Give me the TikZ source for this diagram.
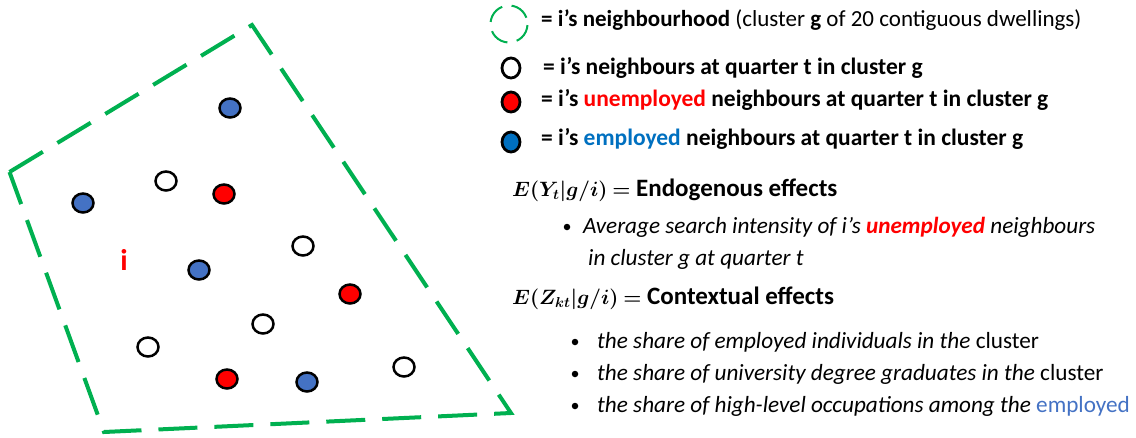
\documentclass[tikz,border=0pt]{standalone}
\usepackage{fontspec}
\setmainfont{Carlito}
\usetikzlibrary{shapes.geometric}
\definecolor{ogreen}{HTML}{00B050}
\definecolor{dblue}{HTML}{4472C4}
\definecolor{lblue}{HTML}{0070C0}
\definecolor{ored}{HTML}{FF0000}
\newcommand{\ymath}{{\fontsize{21.5}{25}\selectfont\boldmath$E(Y_t\vert g/i)$ $=$}}
\newcommand{\zmath}{{\fontsize{21.5}{25}\selectfont\boldmath$E(Z_{kt}\vert g/i)$ $=$}}
\begin{document}
\begin{tikzpicture}[x=1pt,y=-1pt,
  border/.style={draw=ogreen,line width=4pt,dash pattern=on 39pt off 17pt},
  dot/.style={ellipse,draw=black,line width=2.5pt,minimum width=21pt,minimum height=19pt,inner sep=0pt},
  wdot/.style={dot,fill=white},
  rdot/.style={dot,fill=ored},
  bdot/.style={dot,fill=dblue},
  ldot/.style={ellipse,draw=black,line width=2.8pt,minimum width=18pt,minimum height=20pt,inner sep=0pt},
  lab/.style={anchor=west,inner sep=0pt,font=\fontsize{23.5}{25}\selectfont\bfseries},
  head/.style={anchor=west,inner sep=0pt,font=\fontsize{25}{27}\selectfont\bfseries},
  itx/.style={anchor=west,inner sep=0pt,font=\fontsize{23.2}{25}\selectfont\itshape},
  bul/.style={circle,fill=black,inner sep=0pt,minimum size=6.5pt}]
\useasboundingbox (0,0) rectangle (1136,437);
% neighbourhood
\coordinate (pL) at (9.5,172);
\coordinate (pT) at (252,25);
\coordinate (pBR) at (511,413);
\coordinate (pBL) at (104,432);
\draw[border] (pL) -- (pT) -- (pBR) -- (pBL) -- cycle;
% dwellings
\node[bdot] (n1) at (230,108) {};
\node[wdot] (n2) at (166,181) {};
\node[rdot] (n3) at (224,194) {};
\node[bdot] (n4) at (83,203) {};
\node[wdot] (n5) at (303,246) {};
\node[bdot] (n6) at (199,270) {};
\node[rdot] (n7) at (350,294) {};
\node[wdot] (n8) at (263,324) {};
\node[wdot] (n9) at (148,347) {};
\node[rdot] (n10) at (227,379) {};
\node[bdot] (n11) at (307,382) {};
\node[wdot] (n12) at (404,367) {};
\node[text=ored,font=\fontsize{30}{32}\selectfont\bfseries,inner sep=0pt] (i) at (124,260) {i};
% legend
\node[circle,draw=ogreen,line width=2pt,dash pattern=on 20pt off 9.5pt,minimum size=37pt,inner sep=0pt,rotate=20] (lc) at (509,24) {};
\node[lab,font=\fontsize{23}{25}\selectfont\bfseries] (l1) at (541,20) {= i’s neighbourhood \mdseries(cluster \textbf{g} of 20 contiguous dwellings)};
\node[ldot,fill=white] (lw) at (511,68) {};
\node[lab] (l2) at (543,68) {= i’s neighbours at quarter t in cluster g};
\node[ldot,fill=ored] (lr) at (511,102) {};
\node[lab] (l3) at (541,100) {= i’s \textcolor{ored}{unemployed} neighbours at quarter t in cluster g};
\node[ldot,fill=lblue] (lb) at (511,142) {};
\node[lab] (l4) at (541,139) {= i’s \textcolor{lblue}{employed} neighbours at quarter t in cluster g};
% endogenous
\node[head] (e1) at (512,190) {\ymath{} Endogenous effects};
\node[bul] (b1) at (567,227) {};
\node[itx] (t1) at (583,227) {Average search intensity of i’s \textcolor{ored}{\bfseries unemployed} neighbours};
\node[itx] (t2) at (588,259) {in cluster g at quarter t};
% contextual
\node[head] (e2) at (512,298) {\zmath{} Contextual effects};
\node[bul] (b2) at (575,342) {};
\node[itx] (t3) at (597,342) {the share of employed individuals in the \upshape cluster};
\node[bul] (b3) at (575,374) {};
\node[itx] (t4) at (597,374) {the share of university degree graduates in the \upshape cluster};
\node[bul] (b4) at (575,406) {};
\node[itx] (t5) at (597,406) {the share of high-level occupations among the \upshape\textcolor{dblue}{employed}};
\end{tikzpicture}
\end{document}
